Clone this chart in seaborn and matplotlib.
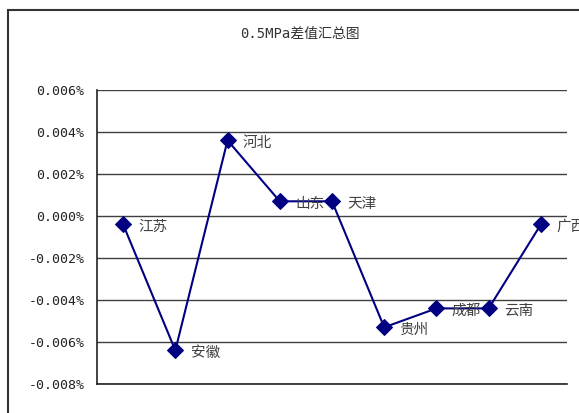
import matplotlib.pyplot as plt
import matplotlib.patches as patches
import seaborn as sns
import pandas as pd

# 地区及差值(%)
regions = ['江苏', '安徽', '河北', '山东', '天津', '贵州', '成都', '云南', '广西']
diffs = [-0.0004, -0.0064, 0.0036, 0.0007, 0.0007, -0.0053, -0.0044, -0.0044, -0.0004]
yticks = [-0.008, -0.006, -0.004, -0.002, 0.000, 0.002, 0.004, 0.006]
title = '0.5MPa差值汇总图'

df = pd.DataFrame({'region': regions, 'diff': diffs})

sns.set_style('white')
plt.rcParams['font.family'] = ['Noto Sans CJK SC', 'DejaVu Sans']

fig = plt.figure(figsize=(5.79, 4.13), dpi=100)
ax = fig.add_axes([97/579, 1 - 384/413, 470/579, 294/413])

sns.lineplot(data=df, x='region', y='diff', sort=False, marker='D', markersize=8,
             color='#000080', linewidth=1.5, markeredgecolor='#000080', ax=ax)

for i, (name, v) in enumerate(zip(regions, diffs)):
    ax.annotate(name, (i, v), xytext=(11, -2), textcoords='offset points',
                ha='left', va='center', fontsize=10.5, color='#404040',
                annotation_clip=False)

ax.set_xlim(-0.5, len(regions) - 0.5)
ax.set_ylim(-0.008, 0.006)
ax.set_yticks(yticks)
ax.set_yticklabels([f'{t:.3f}%' for t in yticks], family='DejaVu Sans Mono',
                   fontsize=9.5, color='#222222')
ax.set_xticks([])
ax.set_xlabel('')
ax.set_ylabel('')
ax.tick_params(axis='y', length=0, pad=9)
ax.grid(axis='y', color='#404040', linewidth=1)
for s in ['top', 'right']:
    ax.spines[s].set_visible(False)
for s in ['left', 'bottom']:
    ax.spines[s].set_color('#222222')
    ax.spines[s].set_linewidth(1.2)

fig.text(300/579, 1 - 34/413, title, ha='center', va='center', fontsize=10,
         color='#333333', family=['DejaVu Sans Mono', 'Noto Sans CJK SC'])

# 外框
frame = patches.Rectangle((8/579, -0.1), 1.2, 1.1 - 10/413, transform=fig.transFigure,
                          fill=False, edgecolor='#333333', linewidth=1.5)
fig.patches.append(frame)

fig.savefig('out.png', dpi=100)
